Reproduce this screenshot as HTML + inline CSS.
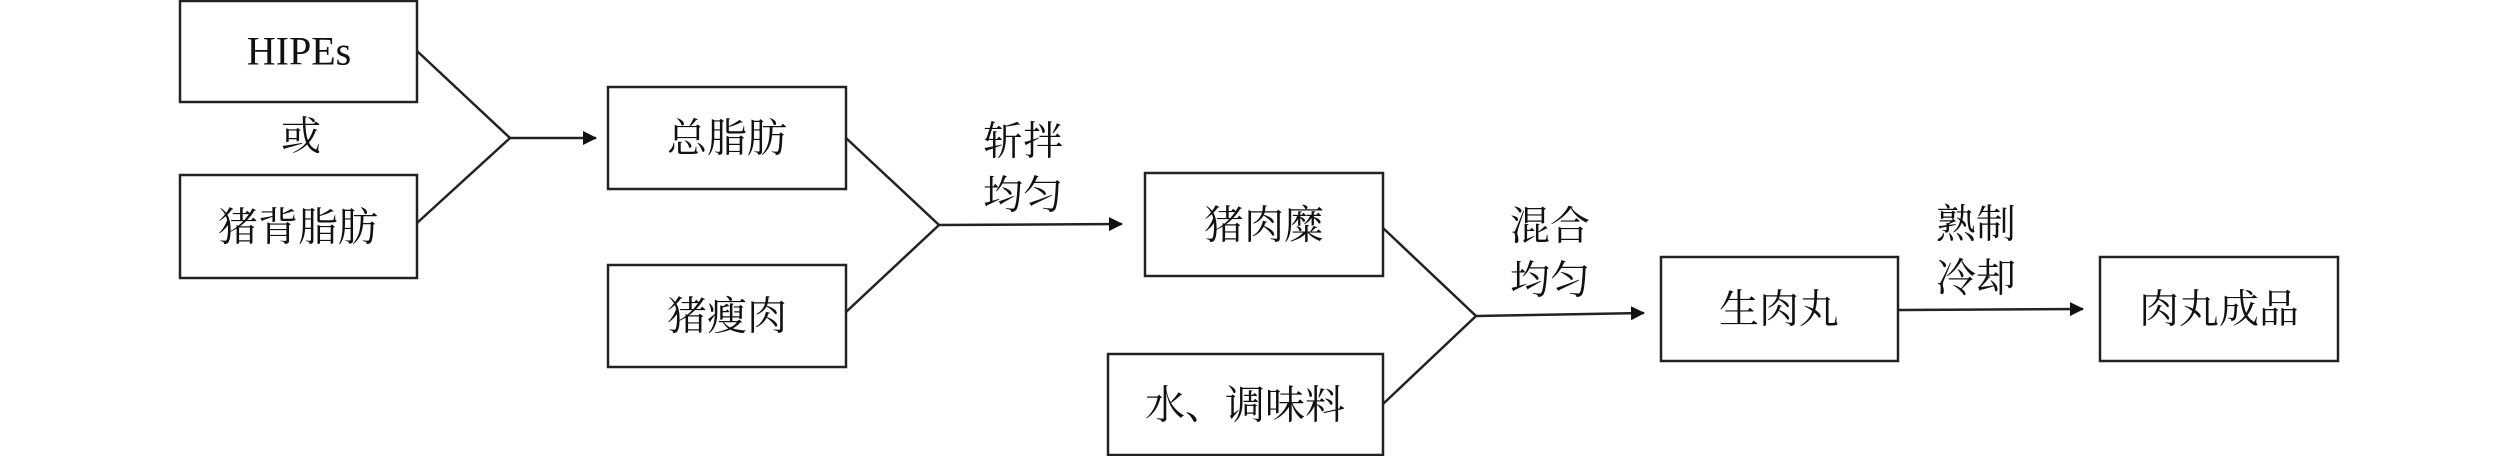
<!DOCTYPE html>
<html><head><meta charset="utf-8"><style>
html,body{margin:0;padding:0;background:#fff;}
svg text{font-family:"Liberation Serif","Noto Serif CJK SC",serif;font-size:40px;fill:#111;}
</style></head><body>
<svg width="2519" height="456" viewBox="0 0 2519 456" xmlns="http://www.w3.org/2000/svg">
<defs><marker id="a" markerWidth="14" markerHeight="14" refX="13" refY="7" orient="auto" markerUnits="userSpaceOnUse"><path d="M0,0 L14,7 L0,14 Z" fill="#111"/></marker></defs>
<g fill="none" stroke="#222" stroke-width="2.5">
<rect x="180" y="1" width="237" height="101"/>
<rect x="180" y="175" width="237" height="103"/>
<rect x="608" y="87" width="238" height="102"/>
<rect x="608" y="265" width="238" height="102"/>
<rect x="1145" y="173" width="238" height="103"/>
<rect x="1108" y="354" width="275" height="101"/>
<rect x="1661" y="257" width="237" height="104"/>
<rect x="2100" y="257" width="238" height="104"/>
<polyline points="417,51 510,138 417,223"/>
<polyline points="846,138 939,225 846,312"/>
<polyline points="1383,228 1476,316 1383,404"/>
<line x1="510" y1="138" x2="596" y2="138" marker-end="url(#a)"/>
<line x1="939" y1="225" x2="1122" y2="224" marker-end="url(#a)"/>
<line x1="1476" y1="316" x2="1644" y2="313" marker-end="url(#a)"/>
<line x1="1898" y1="310" x2="2083" y2="309" marker-end="url(#a)"/>
</g>
<g text-anchor="middle" dominant-baseline="central">
<text x="299" y="51">HIPEs</text>
<text x="301" y="136">或</text>
<text x="298" y="227">猪背脂肪</text>
<text x="727" y="138">总脂肪</text>
<text x="727" y="316">猪瘦肉</text>
<text x="1264" y="225">猪肉糜</text>
<text x="1245" y="405">水、调味料</text>
<text x="1779" y="309">生肉丸</text>
<text x="2219" y="309">肉丸成品</text>
<text x="1023" y="141">斩拌</text>
<text x="1023" y="195">均匀</text>
<text x="1550" y="226">混合</text>
<text x="1550" y="280">均匀</text>
<text x="1976" y="224">熟制</text>
<text x="1976" y="278">冷却</text>
</g>
</svg>
</body></html>
